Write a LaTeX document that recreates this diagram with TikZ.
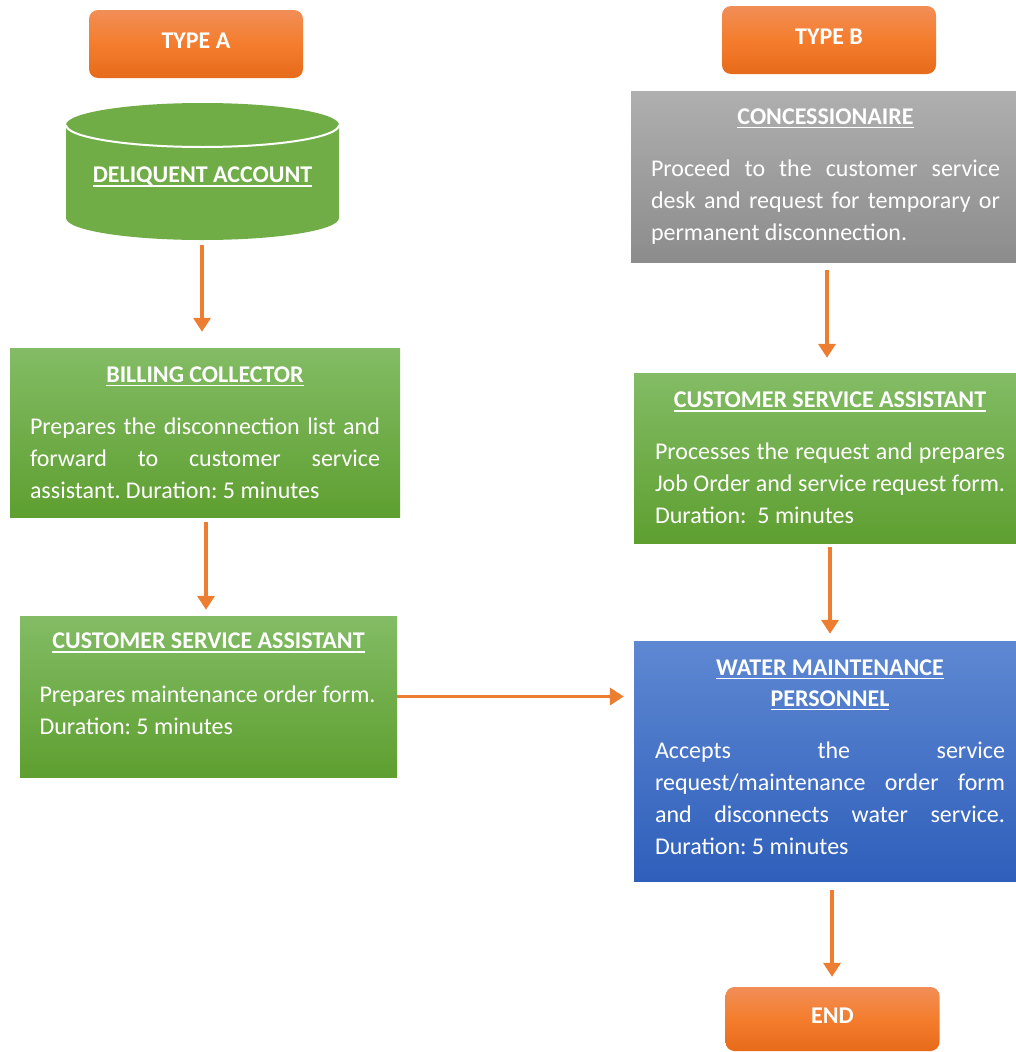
\documentclass[tikz,border=0pt]{standalone}
\usepackage{fontspec}
\setmainfont{Carlito}
\usetikzlibrary{arrows.meta,backgrounds}
\definecolor{orTop}{HTML}{F18E57}
\definecolor{orMid}{HTML}{F47D2D}
\definecolor{orBot}{HTML}{E66B1B}
\definecolor{grTop}{HTML}{83BC65}
\definecolor{grBot}{HTML}{5E9F30}
\definecolor{cylg}{HTML}{70AD47}
\definecolor{gyTop}{HTML}{AFAFAF}
\definecolor{gyBot}{HTML}{8C8C8C}
\definecolor{blTop}{HTML}{5E88D2}
\definecolor{blBot}{HTML}{2F5FBB}
\definecolor{arrc}{HTML}{ED7D31}
\frenchspacing
\newcommand\hdul[1]{\leavevmode\setbox0\hbox{#1}\rlap{\rule[-4pt]{\wd0}{1.6pt}}\box0}
\tikzset{
  btn/.style={rounded corners=9pt, top color=orTop, bottom color=orBot, middle color=orMid,
    minimum width=214pt, minimum height=#1, inner sep=0pt, text=white,
    text height=16pt, text depth=8pt,
    font=\bfseries\fontsize{24}{29}\selectfont},
  proc/.style={text=white, inner sep=0pt, align=justify,
    font=\fontsize{24}{32}\selectfont\frenchspacing},
  greenbox/.style={proc, top color=grTop, bottom color=grBot},
  graybox/.style={proc, top color=gyTop, bottom color=gyBot},
  bluebox/.style={proc, top color=blTop, bottom color=blBot},
  arr/.style={draw=arrc, line width=3.5pt, -{Triangle[length=14pt,width=17pt]}}
}
\newcommand\ttl[1]{\hyphenpenalty=10000\relax{\centering\bfseries #1\par}\vspace{20pt}}
\begin{document}
\begin{tikzpicture}[x=1pt,y=-1pt]
\useasboundingbox (0,0) rectangle (1016,1052);

% Type labels
\node[btn=68pt] (ta) at (196,44) {TYPE A};
\node[btn=68pt] (tb) at (829,40) {TYPE B};

% Cylinder
\node[minimum width=273pt, minimum height=126pt, inner sep=0pt, text=white,
  font=\bfseries\fontsize{24}{29}\selectfont] (db) at (202.5,177) {\hdul{DELIQUENT ACCOUNT}};
\begin{pgfonlayer}{background}
\fill[cylg] (66,125) -- (66,218) arc[start angle=180, end angle=0, x radius=136.5, y radius=22]
  -- (339,125) arc[start angle=0, end angle=-180, x radius=136.5, y radius=22] -- cycle;
\draw[white, line width=2pt] (66,125) arc[start angle=180, end angle=0, x radius=136.5, y radius=22];
\end{pgfonlayer}

% Left column
\node[greenbox, minimum width=390pt, minimum height=169pt, text width=350pt] (bc) at (205,432.5)
 {\ttl{\hdul{BILLING COLLECTOR}}Prepares the disconnection list and\linebreak forward to customer service\linebreak assistant. Duration: 5 minutes};

\node[greenbox, minimum width=377pt, minimum height=161pt, text width=338pt] (csa1) at (208.5,696.5)
 {\ttl{\hdul{CUSTOMER SERVICE ASSISTANT}}\vspace{2pt}Prepares maintenance order form.\par Duration: 5 minutes\par\vspace*{25pt}};

% Right column
\node[graybox, minimum width=389pt, minimum height=171pt, text width=349pt] (con) at (825.5,176.5)
 {\ttl{\hdul{CONCESSIONAIRE}}Proceed to the customer service\linebreak desk and request for temporary or\linebreak permanent disconnection.};

\node[greenbox, minimum width=392pt, minimum height=170pt, text width=350pt] (csa2) at (830,458)
 {\ttl{\hdul{CUSTOMER SERVICE ASSISTANT}}Processes the request and prepares\linebreak Job Order and service request form.\linebreak Duration:\ \ 5 minutes};

\node[bluebox, minimum width=392pt, minimum height=240pt, text width=350pt] (wm) at (830,761)
 {\ttl{\hdul{WATER MAINTENANCE}\par\vspace{-1pt}\hdul{PERSONNEL}}Accepts the service\linebreak request/maintenance order form\linebreak and disconnects water service.\linebreak Duration: 5 minutes\par\vspace*{8pt}};

\node[btn=64pt] (end) at (832.5,1019) {END};

% Connectors
\draw[arr, shorten <=5pt, shorten >=16pt] ([xshift=-0.5pt]db.south) -- ([xshift=-0.5pt]db.south |- bc.north);
\draw[arr, shorten <=5pt, shorten >=6pt] ([xshift=1pt]bc.south) -- ([xshift=1pt]bc.south |- csa1.north);
\draw[arr, shorten >=10pt] (csa1.east) -- (csa1.east -| wm.west);
\draw[arr, shorten <=8pt, shorten >=15pt] ([xshift=1.5pt]con.south) -- ([xshift=1.5pt]con.south |- csa2.north);
\draw[arr, shorten <=4pt, shorten >=7pt] (csa2.south) -- (csa2.south |- wm.north);
\draw[arr, shorten <=9pt, shorten >=10pt] ([xshift=2pt]wm.south) -- ([xshift=2pt]wm.south |- end.north);
\end{tikzpicture}
\end{document}
